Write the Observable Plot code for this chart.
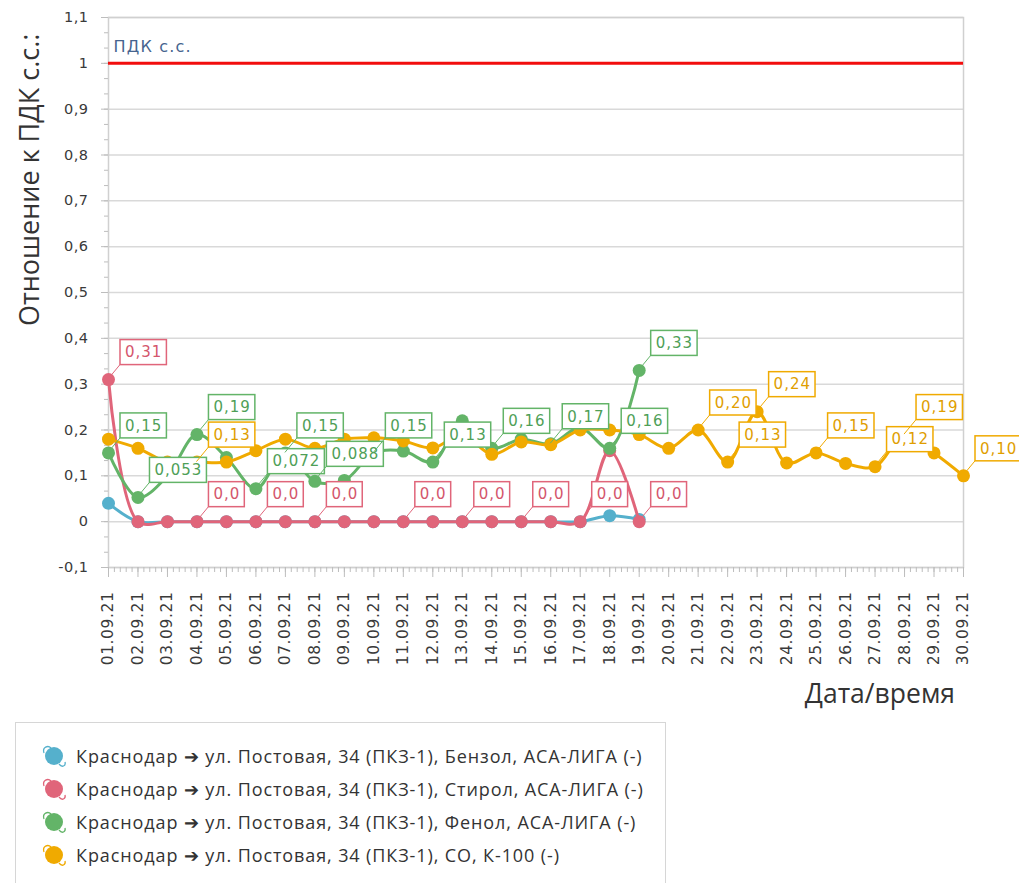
<!DOCTYPE html>
<html>
<head>
<meta charset="utf-8">
<script src="https://cdn.jsdelivr.net/npm/d3@7"></script>
<script src="https://cdn.jsdelivr.net/npm/@observablehq/plot@0.6"></script>
<style>
  html, body { margin: 0; padding: 0; background: #fff; }
  body { width: 1019px; height: 883px; overflow: hidden; position: relative; font-family: "DejaVu Sans", sans-serif; }
  #chart { position: absolute; left: 0; top: 0; }
  #legend { position: absolute; left: 15px; top: 722px; width: 651px; height: 200px; border: 1px solid #d6d6d6; box-sizing: border-box; }
  .li { position: absolute; left: 22px; height: 24px; display: flex; align-items: center; font-family: "Open Sans", sans-serif; font-size: 18px; letter-spacing: 0.9px; color: #333; white-space: nowrap; }
  .li svg { margin-right: 4px; }
</style>
</head>
<body>
<div id="chart"></div>
<div id="legend"></div>
<script>
// ---- data ----
const dates = ["01.09.21","02.09.21","03.09.21","04.09.21","05.09.21","06.09.21","07.09.21","08.09.21","09.09.21","10.09.21",
               "11.09.21","12.09.21","13.09.21","14.09.21","15.09.21","16.09.21","17.09.21","18.09.21","19.09.21","20.09.21",
               "21.09.21","22.09.21","23.09.21","24.09.21","25.09.21","26.09.21","27.09.21","28.09.21","29.09.21","30.09.21"];
const seriesNames = [
  "Краснодар ➔ ул. Постовая, 34 (ПКЗ-1), Бензол, АСА-ЛИГА (-)",
  "Краснодар ➔ ул. Постовая, 34 (ПКЗ-1), Стирол, АСА-ЛИГА (-)",
  "Краснодар ➔ ул. Постовая, 34 (ПКЗ-1), Фенол, АСА-ЛИГА (-)",
  "Краснодар ➔ ул. Постовая, 34 (ПКЗ-1), CO, К-100 (-)"
];
const benzene = [0.04, 0, 0, 0, 0, 0, 0, 0, 0, 0, 0, 0, 0, 0, 0, 0, 0, 0.013, 0.005];
const styrene = [0.31, 0, 0, 0, 0, 0, 0, 0, 0, 0, 0, 0, 0, 0, 0, 0, 0, 0.155, 0];
const phenol  = [0.15, 0.053, 0.10, 0.19, 0.14, 0.072, 0.15, 0.088, 0.09, 0.15, 0.154, 0.13, 0.22, 0.16, 0.18, 0.17, 0.205, 0.16, 0.33];
const co      = [0.18, 0.16, 0.13, 0.13, 0.13, 0.155, 0.18, 0.16, 0.18, 0.183, 0.176, 0.161, 0.19, 0.147, 0.174, 0.168, 0.20, 0.20, 0.19, 0.16,
                 0.20, 0.13, 0.24, 0.128, 0.15, 0.127, 0.12, 0.19, 0.15, 0.10];
// days (1-based) that carry a value callout
const benzeneLabelDays = [];
const styreneLabelDays = [1, 4, 6, 8, 11, 13, 15, 17, 19];
const phenolLabelDays  = [1, 2, 4, 6, 7, 8, 10, 12, 14, 16, 18, 19];
const coLabelDays      = [4, 21, 22, 23, 25, 27, 28, 30];
const limitValue = 1;
const limitLabel = "ПДК с.с.";
const yTicks = [-0.1, 0, 0.1, 0.2, 0.3, 0.4, 0.5, 0.6, 0.7, 0.8, 0.9, 1, 1.1];
const yTitle = "Отношение к ПДК с.с.:";
const xTitle = "Дата/время";

// ---- styles ----
const colors = ["#55b0cc", "#e0657a", "#63b468", "#f0aa00"];
const textColors = ["#3f9cba", "#d4566c", "#4f9f57", "#e09e00"];

const valuesList = [benzene, styrene, phenol, co];
const labelDaysList = [benzeneLabelDays, styreneLabelDays, phenolLabelDays, coLabelDays];
const rows = [];
valuesList.forEach((vals, s) => vals.forEach((v, i) => rows.push({s, day: i + 1, v})));
const labelRows = [];
labelDaysList.forEach((days, s) => days.forEach(d => labelRows.push({s, day: d, v: valuesList[s][d - 1]})));

const fmt = v => d3.format(".2r")(v).replace(".", ",");
const yFmt = v => String(+v.toFixed(1)).replace(".", ",");

const W = 1019, H = 718;
const minorX = d3.range(1, 30.001, 0.2).map(v => +v.toFixed(2));
const minorY = d3.range(-0.1, 1.1001, 0.1 / 3).map(v => +v.toFixed(4));

const marks = [
  Plot.gridY(yTicks, {stroke: "#d9d9d9", strokeOpacity: 1, strokeWidth: 1.5}),
  Plot.frame({stroke: "#d0d0d0", strokeWidth: 1.5}),
  Plot.axisX(minorX, {tickSize: 5, tickFormat: null, stroke: "#bdbdbd", text: null, label: null}),
  Plot.axisX(d3.range(1, 31), {tickSize: 10, tickPadding: 14, tickRotate: -90, tickFormat: d => dates[d - 1], stroke: "#bdbdbd", fill: "#3a3a3a", label: null}),
  Plot.axisY(minorY, {tickSize: 4, stroke: "#bdbdbd", text: null, tickFormat: null, label: null}),
  Plot.axisY(yTicks, {tickSize: 7, tickPadding: 13, tickFormat: yFmt, stroke: "#bdbdbd", fill: "#3a3a3a", label: null}),
  Plot.ruleY([limitValue], {stroke: "#f20d0d", strokeWidth: 3}),
  Plot.text([limitLabel], {x: 1, y: limitValue, text: d => d, dx: 5, dy: -16, textAnchor: "start", fill: "#46648f", fontSize: 16, fontFamily: "DejaVu Sans"})
];
for (let s = 0; s < 4; s++) {
  const data = rows.filter(r => r.s === s);
  marks.push(Plot.line(data, {x: "day", y: "v", stroke: colors[s], strokeWidth: 3, curve: "catmull-rom"}));
  marks.push(Plot.dot(data, {x: "day", y: "v", r: 6.5, fill: colors[s], stroke: "none"}));
}

const chart = Plot.plot({
  width: W, height: H,
  marginLeft: 108, marginRight: 56, marginTop: 17, marginBottom: H - 567,
  x: {type: "linear", domain: [1, 30], axis: null, label: null},
  y: {type: "linear", domain: [-0.1, 1.1], axis: null, label: null},
  style: {fontFamily: "DejaVu Sans", fontSize: "14px", color: "#3a3a3a", background: "#fff", overflow: "visible"},
  marks
});
document.getElementById("chart").appendChild(chart);
const svg = d3.select(chart);
const yLabelTexts = yTicks.map(yFmt);
svg.selectAll("text").filter(function () { return this.textContent === limitLabel; })
  .style("letter-spacing", "1.2px");
svg.selectAll("text").filter(function () { return dates.includes(this.textContent); })
  .style("font-size", "15.5px").style("letter-spacing", "0.6px");
svg.selectAll("text").filter(function () { return yLabelTexts.includes(this.textContent); })
  .style("font-size", "14.5px").style("letter-spacing", "0.5px");

// ---- value callouts placed with the plot's own scales ----
const sx = chart.scale("x"), sy = chart.scale("y");
const gl = svg.append("g").attr("class", "callouts");
labelRows.forEach(r => {
  const px = sx.apply(r.day), py = sy.apply(r.v);
  const left = px + 12, cy = py - 27, h = 25;
  const g = gl.append("g");
  g.append("line").attr("x1", px).attr("y1", py).attr("x2", left).attr("y2", cy + h / 2)
    .attr("stroke", colors[r.s]).attr("stroke-width", 1);
  const rect = g.append("rect").attr("fill", "#fff").attr("stroke", colors[r.s]).attr("stroke-width", 1.5);
  const t = g.append("text").attr("x", left + 5).attr("y", cy).attr("dy", "0.35em")
    .attr("text-anchor", "start")
    .attr("font-family", "DejaVu Sans").attr("font-size", 15).attr("letter-spacing", "1px")
    .attr("fill", textColors[r.s]).text(fmt(r.v));
  const w = t.node().getComputedTextLength() + 9;
  rect.attr("x", left).attr("y", cy - h / 2).attr("width", w).attr("height", h);
});

// axis titles
svg.append("text").attr("x", 955).attr("y", 703).attr("text-anchor", "end")
  .attr("font-family", "Open Sans").attr("font-size", 26.5).attr("fill", "#333").text(xTitle);
svg.append("text").attr("transform", "translate(39,326) rotate(-90)").attr("text-anchor", "start")
  .attr("font-family", "Open Sans").attr("font-size", 27).attr("fill", "#333").text(yTitle);

// ---- legend ----
const legend = d3.select("#legend");
seriesNames.forEach((name, i) => {
  const item = legend.append("div").attr("class", "li").style("top", (21 + i * 33) + "px");
  const ic = item.append("svg").attr("width", 34).attr("height", 24);
  ic.append("path").attr("d", "M6,9 C4,3 10,1 13,4").attr("fill", "none").attr("stroke", colors[i]).attr("stroke-width", 1.3);
  ic.append("circle").attr("cx", 16).attr("cy", 12).attr("r", 9).attr("fill", colors[i]);
  ic.append("path").attr("d", "M21,20 C24,24 28,22 27,18").attr("fill", "none").attr("stroke", colors[i]).attr("stroke-width", 1.3);
  item.append("span").text(name);
});
</script>
</body>
</html>
